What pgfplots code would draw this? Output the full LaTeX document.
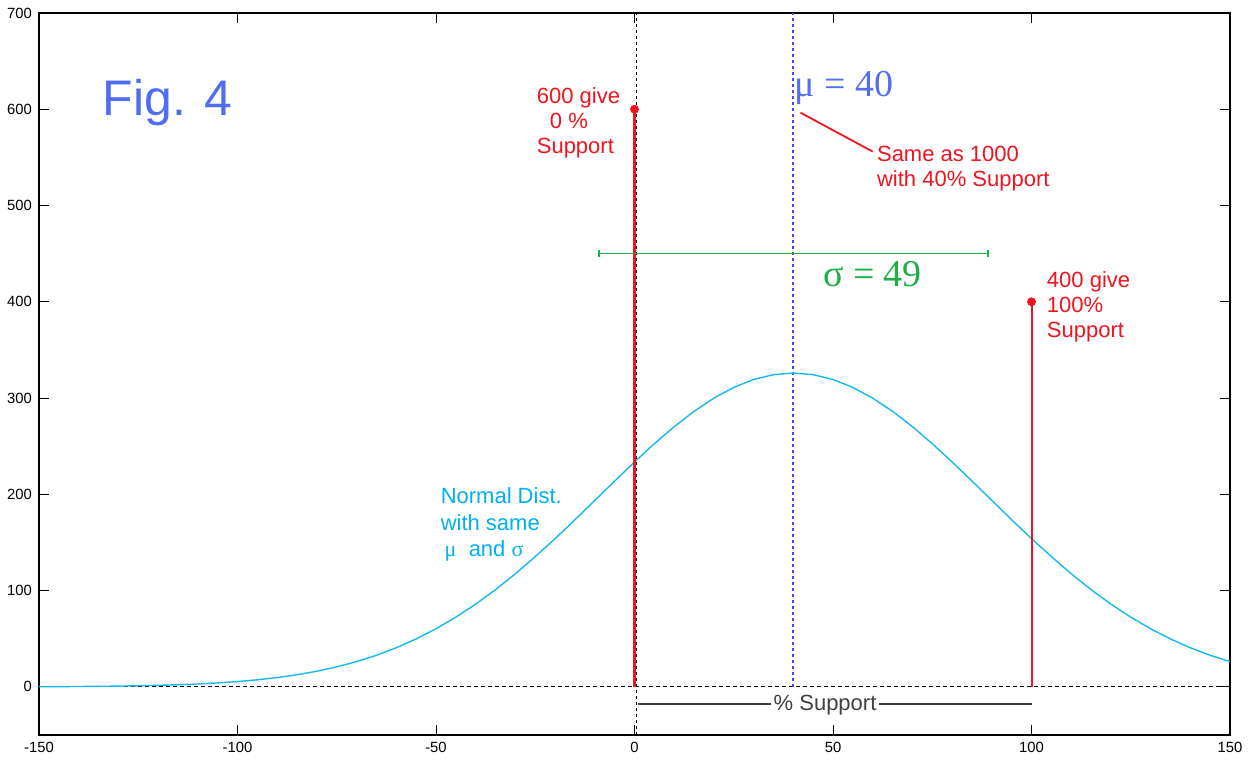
\documentclass[border=0pt]{standalone}
\usepackage{pgfplots}
\pgfplotsset{compat=1.18}
\usepackage{fontspec}
\setmainfont{Liberation Sans}
\newfontfamily\serif{Liberation Serif}
\definecolor{figblue}{RGB}{79,109,240}
\definecolor{mublue}{RGB}{85,110,235}
\definecolor{dblue}{RGB}{70,70,255}
\definecolor{cyanc}{RGB}{20,185,240}
\definecolor{cyant}{RGB}{0,176,240}
\definecolor{redc}{RGB}{240,20,30}
\definecolor{greenc}{RGB}{30,175,70}
\definecolor{greyt}{RGB}{64,64,64}
\pgfplotstableread{
x y
-150 0.18
-145 0.26
-140 0.38
-135 0.55
-130 0.79
-125 1.12
-120 1.58
-115 2.19
-110 3.01
-105 4.09
-100 5.50
-95 7.33
-90 9.66
-85 12.60
-80 16.25
-75 20.76
-70 26.23
-65 32.82
-60 40.63
-55 49.78
-50 60.34
-45 72.41
-40 85.97
-35 101.0
-30 117.5
-25 135.3
-20 154.0
-15 173.6
-10 193.7
-5 213.8
0 233.6
5 252.6
10 270.3
15 286.2
20 299.9
25 311.1
30 319.3
35 324.3
40 326.0
45 324.3
50 319.3
55 311.1
60 299.9
65 286.2
70 270.3
75 252.6
80 233.6
85 213.8
90 193.7
95 173.6
100 154.0
105 135.3
110 117.5
115 101.0
120 85.97
125 72.41
130 60.34
135 49.78
140 40.63
145 32.82
150 26.23
}\normaldist
\begin{document}
\begin{tikzpicture}
\begin{axis}[
  name=ax,
  scale only axis,
  width=595.5pt, height=361pt,
  xmin=-150, xmax=150, ymin=-50, ymax=700,
  xtick={-150,-100,...,150},
  ytick={0,100,...,700},
  xtick pos=both, ytick pos=both,
  tick align=inside,
  major tick length=5pt,
  axis line style={black, line width=0.6pt},
  every tick/.style={black, line width=0.5pt},
  tick label style={font=\fontsize{7.4}{8}\selectfont},
  /pgf/number format/assume math mode=true,
  clip=false,
]
% reference lines
\addplot[black, line width=0.55pt, dash pattern=on 2pt off 1.5pt] coordinates {(-134,0) (150,0)};
\addplot[black, line width=0.55pt, dash pattern=on 1.5pt off 1.5pt] coordinates {(0.4,-50) (0.4,700)};
\addplot[draw=dblue, color=dblue, line width=0.9pt, dash pattern=on 1.5pt off 1.5pt] coordinates {(40,0) (40,700)};
% normal curve
\addplot[cyanc, line width=0.7pt] table[x=x,y=y] {\normaldist};
% stems
\addplot[draw=redc, color=redc, line width=1.1pt] coordinates {(0,0) (0,600)};
\addplot[draw=redc, color=redc, line width=1pt] coordinates {(100,0) (100,400)};
\addplot[redc, only marks, mark=*, mark size=2pt] coordinates {(0,600) (100,400)};
% sigma bar
\addplot[greenc, line width=0.8pt] coordinates {(-9,450) (89,450)};
\addplot[greenc, only marks, mark=|, mark size=1.8pt, mark options={line width=0.8pt}] coordinates {(-9,450) (89,450)};
% annotation pointer
\addplot[redc, line width=0.9pt] coordinates {(41.8,596.5) (60,556)};
% % Support bar
\addplot[greyt, line width=1pt] coordinates {(1,-18) (100,-18)};
\node[fill=white, inner sep=1.4pt, font=\fontsize{11}{13}\selectfont, text=greyt] at (axis cs:48,-19) {\% Support};
% texts
\node[anchor=base west, inner sep=0pt, font=\fontsize{25}{30}\selectfont, text=figblue] at (axis cs:-134,594) {Fig. 4};
\node[anchor=base west, inner sep=0pt, font=\fontsize{11}{13}\selectfont, text=redc] at (axis cs:-24.7,606.5) {600 give};
\node[anchor=base west, inner sep=0pt, font=\fontsize{11}{13}\selectfont, text=redc] at (axis cs:-21.4,580) {0 \%};
\node[anchor=base west, inner sep=0pt, font=\fontsize{11}{13}\selectfont, text=redc] at (axis cs:-24.7,554) {Support};
\node[anchor=base west, inner sep=0pt, font=\serif\fontsize{19}{22}\selectfont, text=mublue] at (axis cs:40.3,613) {μ = 40};
\node[anchor=base west, inner sep=0pt, font=\fontsize{11}{13}\selectfont, text=redc] at (axis cs:61,545.6) {Same as 1000};
\node[anchor=base west, inner sep=0pt, font=\fontsize{11}{13}\selectfont, text=redc] at (axis cs:61,519.7) {with 40\% Support};
\node[anchor=base west, inner sep=0pt, font=\serif\fontsize{19}{22}\selectfont, text=greenc] at (axis cs:47.4,416) {σ = 49};
\node[anchor=base west, inner sep=0pt, font=\fontsize{11}{13}\selectfont, text=redc] at (axis cs:103.8,415) {400 give};
\node[anchor=base west, inner sep=0pt, font=\fontsize{11}{13}\selectfont, text=redc] at (axis cs:103.8,389) {100\%};
\node[anchor=base west, inner sep=0pt, font=\fontsize{11}{13}\selectfont, text=redc] at (axis cs:103.8,363) {Support};
\node[anchor=base west, inner sep=0pt, font=\fontsize{11}{13}\selectfont, text=cyant] at (axis cs:-48.9,190) {Normal Dist.};
\node[anchor=base west, inner sep=0pt, font=\fontsize{11}{13}\selectfont, text=cyant] at (axis cs:-48.9,162) {with same};
\node[anchor=base west, inner sep=0pt, font=\fontsize{11}{13}\selectfont, text=cyant] at (axis cs:-47.9,135) {{\serif μ}\ \ and {\serif σ}};
\end{axis}
\pgfresetboundingbox
\path[use as bounding box] ([shift={(-19.5pt,-14pt)}]ax.south west) rectangle ([shift={(13pt,6.5pt)}]ax.north east);
\end{tikzpicture}
\end{document}
